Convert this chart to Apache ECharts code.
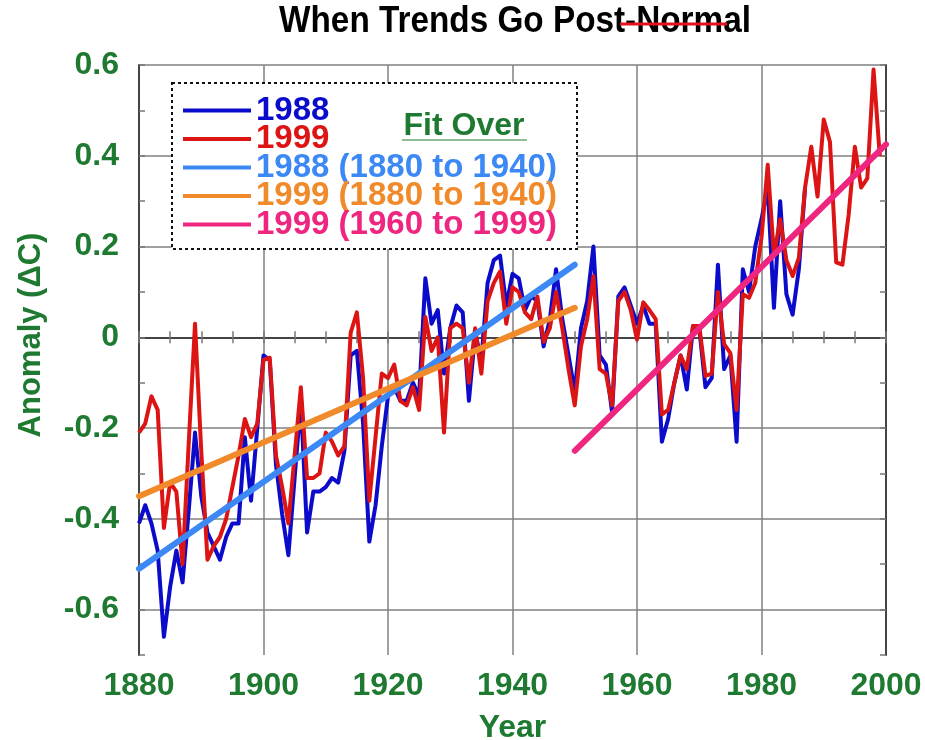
<!DOCTYPE html>
<html>
<head>
<meta charset="utf-8">
<title>When Trends Go Post-Normal</title>
<script src="https://cdn.jsdelivr.net/npm/echarts@6/dist/echarts.min.js"></script>
<style>
  html, body { margin: 0; padding: 0; background: #fff; }
  #chart { width: 925px; height: 740px; }
</style>
</head>
<body>
<div id="chart"></div>
<script>
// anomaly series as published in 1988 and in 1999, one value per year
const startYear = 1880;
const anomaly1988 = [
  -0.41, -0.37, -0.41, -0.47, -0.66, -0.55, -0.47, -0.54, -0.38, -0.21,
  -0.35, -0.43, -0.46, -0.49, -0.44, -0.41, -0.41, -0.22, -0.36, -0.20,
  -0.04, -0.05, -0.28, -0.39, -0.48, -0.31, -0.14, -0.43, -0.34, -0.34,
  -0.33, -0.31, -0.32, -0.25, -0.04, -0.03, -0.19, -0.45, -0.37, -0.24,
  -0.13, -0.11, -0.14, -0.14, -0.10, -0.13, 0.13, 0.03, 0.06, -0.08,
  0.02, 0.07, 0.055, -0.14, 0.01, -0.05, 0.12, 0.17, 0.18, 0.07,
  0.14, 0.13, 0.06, 0.09, 0.08, -0.02, 0.04, 0.15, 0.04, -0.04,
  -0.12, 0.02, 0.08, 0.20, -0.04, -0.06, -0.165, 0.09, 0.11, 0.07,
  0.03, 0.07, 0.03, 0.03, -0.23, -0.18, -0.10, -0.04, -0.115, 0.025,
  0.02, -0.11, -0.09, 0.16, -0.07, -0.04, -0.23, 0.15, 0.10, 0.20,
  0.26, 0.33, 0.065, 0.30, 0.095, 0.05, 0.15, 0.33
];
const anomaly1999 = [
  -0.21, -0.19, -0.13, -0.16, -0.42, -0.32, -0.34, -0.50, -0.23, 0.03,
  -0.25, -0.49, -0.46, -0.44, -0.40, -0.33, -0.26, -0.18, -0.22, -0.19,
  -0.05, -0.045, -0.26, -0.33, -0.41, -0.26, -0.11, -0.31, -0.31, -0.30,
  -0.21, -0.23, -0.26, -0.24, 0.01, 0.055, -0.09, -0.36, -0.22, -0.08,
  -0.09, -0.06, -0.14, -0.15, -0.11, -0.16, 0.045, -0.03, 0.0, -0.21,
  0.02, 0.03, 0.02, -0.10, 0.02, -0.08, 0.08, 0.12, 0.145, 0.03,
  0.11, 0.10, 0.055, 0.04, 0.09, -0.01, 0.02, 0.10, 0.02, -0.07,
  -0.15, -0.02, 0.04, 0.135, -0.07, -0.08, -0.15, 0.08, 0.10, 0.06,
  -0.005, 0.077, 0.06, 0.04, -0.17, -0.16, -0.10, -0.04, -0.07, 0.025,
  0.025, -0.085, -0.08, 0.10, -0.015, -0.035, -0.16, 0.095, 0.087, 0.12,
  0.22, 0.38, 0.18, 0.26, 0.17, 0.135, 0.175, 0.33, 0.42, 0.31,
  0.48, 0.43, 0.165, 0.16, 0.27, 0.42, 0.33, 0.35, 0.59, 0.40
];

// straight-line fits (end points)
const fitEarlyYears = [1880, 1950];
const fitLateYears = [1950, 2000];
const fit1988Early = [-0.51, 0.16];
const fit1999Early = [-0.35, 0.065];
const fit1999Late = [-0.25, 0.425];

const legendNames = ['1988', '1999', '1988 (1880 to 1940)', '1999 (1880 to 1940)', '1999 (1960 to 1999)'];
const colors = ['#0b0bcc', '#dc1414', '#3c88f4', '#f08a2a', '#ef2680'];

const green = '#1e7a30';
const font = 'Liberation Sans, Arial, sans-serif';

function toPairs(values) {
  return values.map((v, i) => [startYear + i, v]);
}
function fitPairs(years, values) {
  return years.map((y, i) => [y, values[i]]);
}

const chart = echarts.init(document.getElementById('chart'));

const gridColor = '#808080';
const frame = { show: true, lineStyle: { color: '#444', width: 2 } };

function xAxisBase(pos) {
  return {
    type: 'value', position: pos, min: 1880, max: 2000, interval: 5,
    axisLine: frame,
    axisTick: { show: true, inside: true, length: 6, lineStyle: { color: '#777', width: 1.5 } },
  };
}
function yAxisBase(pos) {
  return {
    type: 'value', position: pos, min: -0.7, max: 0.6, interval: 0.1,
    axisLine: frame,
    axisTick: { show: true, inside: true, length: 6, lineStyle: { color: '#777', width: 1.5 } },
  };
}

const option = {
  animation: false,
  backgroundColor: '#fff',
  color: colors,
  grid: { left: 139, right: 39, top: 65, bottom: 85, outerBoundsMode: 'none' },
  legend: {
    orient: 'vertical', left: 178, top: 89, z: 6,
    icon: 'rect', itemWidth: 68, itemHeight: 4, itemGap: -4.5,
    selectedMode: false,
    textStyle: { fontFamily: font, fontSize: 33, fontWeight: 'bold' },
    data: legendNames.map((n, i) => ({ name: n, textStyle: { color: colors[i] } }))
  },
  xAxis: [
    Object.assign(xAxisBase('bottom'), {
      name: 'Year', nameLocation: 'middle', nameGap: 57,
      nameTextStyle: { fontFamily: font, fontSize: 32, fontWeight: 'bold', color: green },
      axisLabel: {
        margin: 15, color: green, fontFamily: font, fontSize: 32, fontWeight: 'bold',
        formatter: v => (v % 20 === 0 ? String(v) : '')
      },
      splitLine: { show: true, lineStyle: { color: [gridColor, 'rgba(0,0,0,0)', 'rgba(0,0,0,0)', 'rgba(0,0,0,0)'], width: 1.5 } }
    }),
    Object.assign(xAxisBase('top'), { axisLabel: { show: false }, splitLine: { show: false } })
  ],
  yAxis: [
    Object.assign(yAxisBase('left'), {
      name: 'Anomaly (ΔC)', nameLocation: 'middle', nameGap: 92,
      nameTextStyle: { fontFamily: font, fontSize: 31, fontWeight: 'bold', color: green, padding: [0, 0, 0, 50] },
      axisLabel: {
        margin: 20, color: green, fontFamily: font, fontSize: 32, fontWeight: 'bold',
        formatter: v => {
          const k = Math.round(v * 10);
          if (k % 2 !== 0) return '';
          return k === 0 ? '0' : (k / 10).toFixed(1);
        }
      },
      splitLine: { show: true, lineStyle: { color: ['rgba(0,0,0,0)', gridColor], width: 1.5 } }
    }),
    Object.assign(yAxisBase('right'), { axisLabel: { show: false }, splitLine: { show: false } })
  ],
  graphic: [
    {
      // condensed-looking title
      type: 'text', z: 6, x: 515, y: 22, scaleX: 0.9,
      style: { text: 'When Trends Go Post-Normal', fill: '#000', font: 'bold 37px ' + font, align: 'center', verticalAlign: 'middle' }
    },
    {
      type: 'line', z: 7,
      shape: { x1: 620, y1: 24, x2: 727, y2: 24 },
      style: { stroke: '#e0141e', lineWidth: 3 }
    },
    {
      type: 'rect', z: 3,
      shape: { x: 172, y: 83, width: 405, height: 166 },
      style: { fill: '#fff', stroke: '#111', lineWidth: 2, lineDash: [3, 3] }
    },
    {
      type: 'text', z: 6, x: 464, y: 126,
      style: { text: 'Fit Over', fill: green, font: 'bold 32px ' + font, align: 'center', verticalAlign: 'middle' }
    },
    {
      type: 'line', z: 6,
      shape: { x1: 402, y1: 140, x2: 527, y2: 140 },
      style: { stroke: green, lineWidth: 1 }
    }
  ],
  series: [
    { name: legendNames[0], type: 'line', data: toPairs(anomaly1988), symbol: 'none',
      lineStyle: { color: colors[0], width: 4, join: 'round' } },
    { name: legendNames[1], type: 'line', data: toPairs(anomaly1999), symbol: 'none',
      lineStyle: { color: colors[1], width: 4, join: 'round' } },
    { name: legendNames[2], type: 'line', data: fitPairs(fitEarlyYears, fit1988Early), symbol: 'none',
      lineStyle: { color: colors[2], width: 6, cap: 'round' } },
    { name: legendNames[3], type: 'line', data: fitPairs(fitEarlyYears, fit1999Early), symbol: 'none',
      lineStyle: { color: colors[3], width: 6, cap: 'round' } },
    { name: legendNames[4], type: 'line', data: fitPairs(fitLateYears, fit1999Late), symbol: 'none',
      lineStyle: { color: colors[4], width: 6, cap: 'round' } }
  ]
};

chart.setOption(option);
</script>
</body>
</html>
